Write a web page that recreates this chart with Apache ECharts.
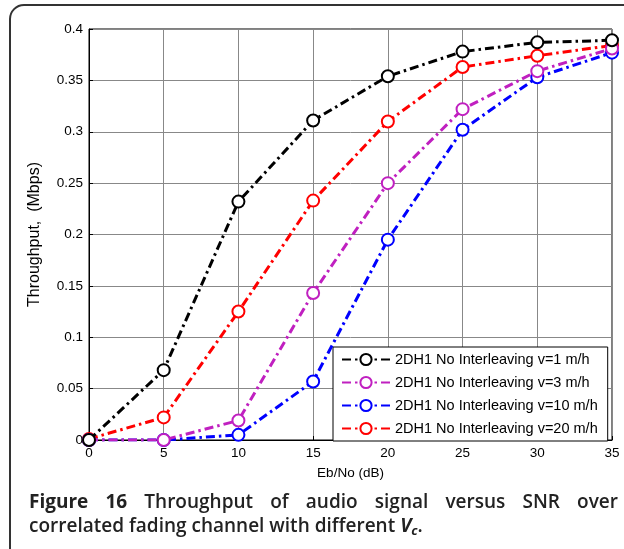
<!DOCTYPE html>
<html><head><meta charset="utf-8">
<script src="https://cdn.jsdelivr.net/npm/echarts@6/dist/echarts.min.js"></script>
<style>html,body{margin:0;padding:0;background:#fff}#c{width:624px;height:549px}</style>
</head><body><div id="c"></div>
<script>
const xValues = [0, 5, 10, 15, 20, 25, 30, 35];
const seriesNames = ['2DH1 No Interleaving v=1 m/h','2DH1 No Interleaving v=3 m/h','2DH1 No Interleaving v=10 m/h','2DH1 No Interleaving v=20 m/h'];
const v1  = [0, 0.068, 0.232, 0.311, 0.354, 0.378, 0.387, 0.389];
const v3  = [0, 0, 0.019, 0.143, 0.250, 0.322, 0.359, 0.381];
const v10 = [0, 0, 0.005, 0.057, 0.195, 0.302, 0.353, 0.377];
const v20 = [0.001, 0.022, 0.125, 0.233, 0.310, 0.363, 0.374, 0.384];
const colors = ['#000000', '#c020c0', '#0000ff', '#ff0000'];
const allData = [v1, v3, v10, v20];
const captionWords1 = [['Figure', 'bold'], ['16', 'bold'], ['Throughput', '600'], ['of', '600'], ['audio', '600'], ['signal', '600'], ['versus', '600'], ['SNR', '600'], ['over', '600']];

const font = 'Liberation Sans, Arial, sans-serif';
const capFont = 'Open Sans, sans-serif';
const capSize = 19;
const capLeft = 29, capRight = 618;

// justify first caption line between capLeft and capRight
const cv = document.createElement('canvas').getContext('2d');
const widths = captionWords1.map(([w, b]) => { cv.font = b + ' ' + capSize + 'px "Open Sans"'; return cv.measureText(w).width; });
const total = widths.reduce((a, b) => a + b, 0);
const gap = (capRight - capLeft - total) / (captionWords1.length - 1);
let cx = capLeft;
const capGraphics = captionWords1.map(([w, b], i) => {
  const g = { type: 'text', x: cx, y: 503, style: { text: w, fontFamily: capFont, fontSize: capSize, fontWeight: b, fill: '#222', verticalAlign: 'middle', align: 'left' } };
  cx += widths[i] + gap;
  return g;
});

const chart = echarts.init(document.getElementById('c'));
chart.setOption({
  animation: false,
  grid: { left: 89, right: 12, top: 29, bottom: 109, show: true, borderColor: '#000', borderWidth: 1, backgroundColor: 'transparent' },
  xAxis: {
    type: 'value', min: 0, max: 35, interval: 5,
    name: 'Eb/No (dB)', nameLocation: 'middle', nameGap: 26,
    nameTextStyle: { fontFamily: font, fontSize: 13.5, color: '#000' },
    axisLine: { show: true, lineStyle: { color: '#000' } },
    axisTick: { show: true, inside: true, length: 4, lineStyle: { color: '#000' } },
    axisLabel: { fontFamily: font, fontSize: 13.5, color: '#000', margin: 6 },
    splitLine: { show: true, lineStyle: { color: '#888', width: 1 } }
  },
  yAxis: {
    type: 'value', min: 0, max: 0.4, interval: 0.05,
    name: 'Throughput,  (Mbps)', nameLocation: 'middle', nameGap: 46,
    nameTextStyle: { fontFamily: font, fontSize: 16, color: '#000' },
    axisLine: { show: true, lineStyle: { color: '#000' } },
    axisTick: { show: true, inside: true, length: 4, lineStyle: { color: '#000' } },
    axisLabel: { fontFamily: font, fontSize: 13.5, color: '#000', margin: 6, formatter: v => String(+v.toFixed(2)) },
    splitLine: { show: true, lineStyle: { color: '#888', width: 1 } }
  },
  legend: {
    orient: 'vertical', left: 333, top: 347, width: 276,
    backgroundColor: '#fff', borderColor: '#000', borderWidth: 1,
    padding: [5, 10, 5, 8], itemGap: 8, itemWidth: 48, itemHeight: 14,
    textStyle: { fontFamily: font, fontSize: 14.5, color: '#000' },
    data: seriesNames
  },
  series: allData.map((d, i) => ({
    name: seriesNames[i], type: 'line',
    data: xValues.map((x, j) => [x, d[j]]),
    symbol: 'emptyCircle', symbolSize: 12,
    lineStyle: { color: colors[i], width: 3, type: [9, 4, 2.5, 4] },
    itemStyle: { color: colors[i], borderColor: colors[i], borderWidth: 2.5 },
    z: 10 - i
  })),
  graphic: [
    { type: 'rect', shape: { x: 10, y: 5, width: 700, height: 700, r: 14 }, style: { fill: 'none', stroke: '#333', lineWidth: 2 }, silent: true },
    ...capGraphics,
    { type: 'text', x: capLeft, y: 527, style: {
        text: 'correlated fading channel with different {i|V}{s|c}.',
        fontFamily: capFont, fontSize: capSize, fontWeight: 600, fill: '#222', verticalAlign: 'middle',
        rich: { i: { fontStyle: 'italic', fontWeight: 'bold', fontFamily: capFont, fontSize: capSize, fill: '#222' },
                s: { fontStyle: 'italic', fontWeight: 'bold', fontFamily: capFont, fontSize: 13, fill: '#222', verticalAlign: 'bottom', padding: [8, 0, 0, 0] } } } }
  ]
});
</script></body></html>
